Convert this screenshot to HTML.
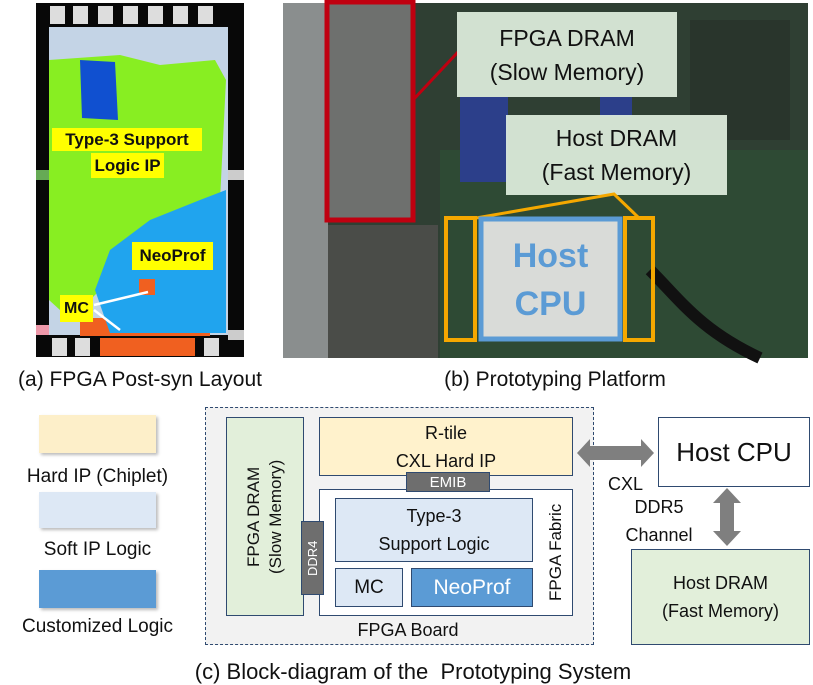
<!DOCTYPE html>
<html><head><meta charset="utf-8"><style>
*{margin:0;padding:0;box-sizing:border-box}
body{width:813px;height:685px;background:#fff;position:relative;overflow:hidden;font-family:"Liberation Sans",sans-serif;color:#111}
.a{position:absolute;white-space:nowrap}
.c{display:flex;align-items:center;justify-content:center;text-align:center}
.v{writing-mode:vertical-rl;transform:rotate(180deg)}
</style></head><body>

<div class="a" style="left:36px;top:3px;width:208px;height:354px;background:#080808"></div>
<div class="a" style="left:49px;top:27px;width:179px;height:308px;background:#c4d4e6"></div>
<svg class="a" style="left:0;top:0" width="813" height="390">
 <g fill="#ddd">
  <rect x="50" y="6" width="15" height="18"/><rect x="73" y="6" width="15" height="18"/><rect x="98" y="6" width="15" height="18"/><rect x="123" y="6" width="15" height="18"/><rect x="148" y="6" width="15" height="18"/><rect x="173" y="6" width="15" height="18"/><rect x="198" y="6" width="15" height="18"/>
  <rect x="52" y="338" width="15" height="18"/><rect x="75" y="338" width="15" height="18"/><rect x="204" y="338" width="15" height="18"/>
 </g>
 <g fill="#f06020"><rect x="100" y="338" width="95" height="18"/><rect x="80" y="318" width="130" height="18"/><rect x="108" y="300" width="15" height="20"/></g>
 <path d="M49 60 L120 55 L160 65 L215 60 L226 80 L220 200 L190 220 L150 240 L120 270 L90 300 L60 310 L49 300 Z" fill="#88ee22"/>
 <path d="M80 60 L115 62 L118 120 L82 118 Z" fill="#1050d0"/>
 <path d="M226 190 L226 333 L110 333 L95 290 L110 250 L150 220 L200 200 Z" fill="#20a4ee"/>
 <rect x="139" y="279" width="16" height="16" fill="#f06020"/>
 <rect x="36" y="170" width="13" height="10" fill="#6a5"/><rect x="228" y="170" width="16" height="10" fill="#ccc"/>
 <rect x="36" y="325" width="13" height="10" fill="#e9a"/><rect x="228" y="330" width="16" height="10" fill="#ccc"/>
 <g stroke="#fff" stroke-width="2.5"><line x1="94" y1="305" x2="148" y2="292"/><line x1="94" y1="310" x2="120" y2="330"/></g>
 <rect x="283" y="3" width="525" height="355" fill="#2f3f33"/>
 <rect x="283" y="3" width="45" height="355" fill="#8a8e8e"/>
 <rect x="328" y="225" width="110" height="133" fill="#4a4c48"/>
 <rect x="440" y="150" width="368" height="208" fill="#2e4a34"/>
 <rect x="460" y="97" width="48" height="85" fill="#2c3f8a"/>
 <rect x="600" y="97" width="32" height="20" fill="#2c3f8a"/>
 <rect x="690" y="20" width="100" height="120" fill="#29352c"/>
 <rect x="480" y="218" width="140" height="122" fill="#d9dbd8"/>
 <path d="M650 270 C680 300 700 330 760 358" stroke="#111" stroke-width="12" fill="none"/>
 <rect x="327" y="2" width="86" height="218" fill="#6e706e" stroke="#c00010" stroke-width="5"/>
 <line x1="413" y1="100" x2="458" y2="52" stroke="#c00010" stroke-width="3"/>
 <rect x="457" y="12" width="220" height="85" fill="#dfeede" opacity="0.93"/>
 <rect x="506" y="115" width="221" height="80" fill="#dfeede" opacity="0.93"/>
 <polyline points="476,218 614,194 639,218" stroke="#f5a800" stroke-width="3" fill="none"/>
 <rect x="446" y="218" width="29" height="122" fill="none" stroke="#f5a800" stroke-width="4"/>
 <rect x="625" y="218" width="28" height="122" fill="none" stroke="#f5a800" stroke-width="4"/>
 <rect x="481" y="219" width="139" height="120" fill="none" stroke="#5b9bd5" stroke-width="5"/>
</svg>
<div class="a c" style="left:52px;top:128px;width:150px;height:23px;background:#ff0;font-weight:bold;font-size:17px">Type-3 Support</div>
<div class="a c" style="left:91px;top:153px;width:73px;height:25px;background:#ff0;font-weight:bold;font-size:17px">Logic IP</div>
<div class="a c" style="left:132px;top:242px;width:81px;height:28px;background:#ff0;font-weight:bold;font-size:17px">NeoProf</div>
<div class="a c" style="left:60px;top:295px;width:33px;height:27px;background:#ff0;font-weight:bold;font-size:16px">MC</div>
<div class="a c" style="left:457px;top:12px;width:220px;height:85px;font-size:23px;line-height:34px">FPGA DRAM<br>(Slow Memory)</div>
<div class="a c" style="left:506px;top:115px;width:221px;height:80px;font-size:23px;line-height:34px">Host DRAM<br>(Fast Memory)</div>
<div class="a c" style="left:481px;top:225px;width:139px;height:110px;font-size:34px;line-height:48px;font-weight:bold;color:#5b9bd5">Host<br>CPU</div>
<div class="a c" style="left:0;top:366px;width:280px;height:28px;font-size:21px">(a) FPGA Post-syn Layout</div>
<div class="a c" style="left:380px;top:366px;width:350px;height:28px;font-size:21px">(b) Prototyping Platform</div>

<div class="a" style="left:39px;top:415px;width:117px;height:38px;background:#fdefc9;box-shadow:2px 2px 3px #bbb"></div>
<div class="a c" style="left:0px;top:465px;width:195px;height:24px;font-size:19px">Hard IP (Chiplet)</div>
<div class="a" style="left:39px;top:492px;width:117px;height:36px;background:#dde8f5;box-shadow:2px 2px 3px #bbb"></div>
<div class="a c" style="left:0px;top:538px;width:195px;height:24px;font-size:19px">Soft IP Logic</div>
<div class="a" style="left:39px;top:570px;width:117px;height:38px;background:#5b9bd5;box-shadow:2px 2px 3px #bbb"></div>
<div class="a c" style="left:0px;top:615px;width:195px;height:24px;font-size:19px">Customized Logic</div>

<div class="a" style="left:205px;top:407px;width:389px;height:238px;background:#f2f2f2;border:1.5px dashed #2f4a70"></div>
<div class="a" style="left:226px;top:417px;width:78px;height:199px;background:#e2efda;border:1.5px solid #2f4a70"></div>
<div class="a c v" style="left:232px;top:417px;width:66px;height:199px;font-size:17px;line-height:22px">FPGA DRAM<br>(Slow Memory)</div>
<div class="a c" style="left:319px;top:417px;width:254px;height:59px;background:#fff2cc;border:1.5px solid #2f4a70;font-size:18px;line-height:28px">R-tile<br>CXL Hard IP</div>
<div class="a" style="left:319px;top:489px;width:254px;height:127px;background:#fff;border:1.5px solid #2f4a70"></div>
<div class="a c" style="left:406px;top:472px;width:84px;height:20px;background:#6e6e6e;border:1.5px solid #2f4a70;color:#fff;font-size:15px">EMIB</div>
<div class="a c" style="left:335px;top:498px;width:198px;height:64px;background:#dde8f5;border:1.5px solid #2f4a70;font-size:18px;line-height:28px">Type-3<br>Support Logic</div>
<div class="a c" style="left:335px;top:568px;width:68px;height:39px;background:#dde8f5;border:1.5px solid #2f4a70;font-size:19px">MC</div>
<div class="a c" style="left:411px;top:568px;width:122px;height:39px;background:#5b9bd5;border:1.5px solid #2f4a70;font-size:21px;color:#fff">NeoProf</div>
<div class="a c v" style="left:301px;top:521px;width:23px;height:74px;background:#6e6e6e;border:1.5px solid #2f4a70;color:#fff;font-size:13px">DDR4</div>
<div class="a c v" style="left:543px;top:489px;width:26px;height:127px;font-size:17px">FPGA Fabric</div>
<div class="a c" style="left:320px;top:619px;width:176px;height:22px;font-size:18px">FPGA Board</div>

<div class="a c" style="left:658px;top:417px;width:152px;height:70px;background:#fff;border:1.5px solid #2f4a70;font-size:26px">Host CPU</div>
<div class="a c" style="left:631px;top:549px;width:179px;height:96px;background:#e2efda;border:1.5px solid #2f4a70;font-size:18px;line-height:28px">Host DRAM<br>(Fast Memory)</div>
<svg class="a" style="left:0;top:0" width="813" height="685">
 <polygon points="577,453 590,439 590,446 641,446 641,439 654,453 641,467 641,460 590,460 590,467" fill="#7f7f7f"/>
 <polygon points="727,488 741,503 734,503 734,531 741,531 727,546 713,531 720,531 720,503 713,503" fill="#7f7f7f"/>
</svg>
<div class="a" style="left:608px;top:474px;font-size:18px">CXL</div>
<div class="a c" style="left:625px;top:496px;width:68px;height:22px;font-size:18px">DDR5</div>
<div class="a c" style="left:612px;top:524px;width:94px;height:22px;font-size:18px">Channel</div>
<div class="a c" style="left:130px;top:658px;width:566px;height:27px;font-size:22px">(c) Block-diagram of the&nbsp; Prototyping System</div>
</body></html>
